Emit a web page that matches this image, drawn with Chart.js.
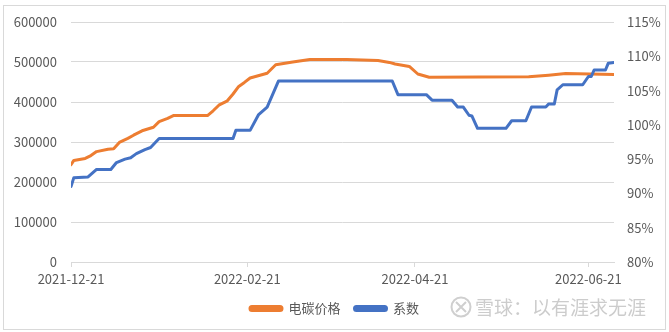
<!DOCTYPE html>
<html>
<head>
<meta charset="utf-8">
<script src="https://cdn.jsdelivr.net/npm/chart.js@4/dist/chart.umd.min.js"></script>
<style>
    html, body { margin: 0; padding: 0; background: #fff; }
    canvas { display: block; }
</style>
</head>
<body>
<canvas id="carbonChart" width="669" height="332"></canvas>
<script>
const startDate = "2021-12-21";
const endDate = "2022-06-30";
const tickLabels = ["2021-12-21", "2022-02-21", "2022-04-21", "2022-06-21"];
const seriesNames = ["电碳价格", "系数"];

// 电碳价格
const priceDates = [
    "2021-12-21", "2021-12-22", "2021-12-26", "2021-12-28", "2021-12-30",
    "2022-01-03", "2022-01-05", "2022-01-07", "2022-01-10", "2022-01-12",
    "2022-01-15", "2022-01-19", "2022-01-21", "2022-01-24", "2022-01-26",
    "2022-02-07", "2022-02-09", "2022-02-11", "2022-02-14", "2022-02-16",
    "2022-02-18", "2022-02-20", "2022-02-22", "2022-02-28", "2022-03-03",
    "2022-03-09", "2022-03-15", "2022-03-28", "2022-04-08", "2022-04-12",
    "2022-04-14", "2022-04-19", "2022-04-22", "2022-04-26", "2022-05-31",
    "2022-06-07", "2022-06-13", "2022-06-30"
];
const priceValues = [
    243000, 254000, 259000, 266000, 276000,
    282000, 283000, 299000, 309000, 317000,
    328000, 337000, 351000, 359000, 366000,
    366000, 378000, 392000, 403000, 420000,
    439000, 449000, 460000, 472000, 493000,
    500000, 506000, 506000, 504000, 499000,
    495000, 489000, 470000, 462000, 463000,
    467000, 471000, 469000
];

// 系数 (%)
const coefDates = [
    "2021-12-21", "2021-12-22", "2021-12-27", "2021-12-30", "2022-01-04",
    "2022-01-06", "2022-01-09", "2022-01-11", "2022-01-13", "2022-01-16",
    "2022-01-18", "2022-01-21", "2022-02-16", "2022-02-17", "2022-02-22",
    "2022-02-25", "2022-02-28", "2022-03-04", "2022-04-13", "2022-04-15",
    "2022-04-25", "2022-04-27", "2022-05-04", "2022-05-06", "2022-05-08",
    "2022-05-10", "2022-05-11", "2022-05-13", "2022-05-23", "2022-05-25",
    "2022-05-30", "2022-06-01", "2022-06-06", "2022-06-07", "2022-06-09",
    "2022-06-10", "2022-06-12", "2022-06-19", "2022-06-21", "2022-06-22",
    "2022-06-23", "2022-06-27", "2022-06-28", "2022-06-30"
];
const coefValues = [
    91.0, 92.3, 92.4, 93.5, 93.5,
    94.5, 95.0, 95.2, 95.8, 96.4,
    96.7, 98.0, 98.0, 99.2, 99.2,
    101.5, 102.6, 106.4, 106.4, 104.4,
    104.4, 103.6, 103.6, 102.6, 102.6,
    101.4, 101.3, 99.5, 99.5, 100.6,
    100.6, 102.6, 102.6, 103.05, 103.05,
    105.1, 105.85, 105.85, 107.05, 107.05,
    108.0, 108.0, 109.0, 109.1
];

const DAY = 86400000;
const dayOf = d => (Date.parse(d) - Date.parse(startDate)) / DAY;
const toPoints = (dates, values) => dates.map((d, i) => ({ x: dayOf(d), y: values[i] }));

const textColor = "#595959";
const gridColor = "#d9d9d9";
const baseFont = "'Noto Sans CJK SC', 'Noto Sans', sans-serif";

// white background, frame and the watermark
const framePlugin = {
    id: "frame",
    beforeDraw(chart) {
        const ctx = chart.ctx;
        ctx.save();
        ctx.fillStyle = "#fff";
        ctx.fillRect(0, 0, chart.width, chart.height);
        ctx.strokeStyle = gridColor;
        ctx.lineWidth = 1;
        ctx.strokeRect(3.5, 5.5, 662, 324);
        ctx.restore();
    },
    afterDraw(chart) {
        const ctx = chart.ctx;
        ctx.save();
        ctx.strokeStyle = "#cfcfcf";
        ctx.lineWidth = 2;
        ctx.beginPath();
        ctx.arc(461, 307, 9.5, 0, Math.PI * 2);
        ctx.stroke();
        ctx.beginPath();
        ctx.moveTo(456, 302); ctx.lineTo(466, 312);
        ctx.moveTo(466, 302); ctx.lineTo(456, 312);
        ctx.stroke();
        ctx.fillStyle = "#cccccc";
        ctx.font = "19px " + baseFont;
        ctx.textBaseline = "middle";
        ctx.fillText("雪球：以有涯求无涯", 475, 308);
        ctx.restore();
    }
};

new Chart(document.getElementById("carbonChart"), {
    type: "line",
    data: {
        datasets: [
            {
                label: seriesNames[0],
                data: toPoints(priceDates, priceValues),
                yAxisID: "y",
                borderColor: "#ED7D31",
                backgroundColor: "#ED7D31",
                borderWidth: 3,
                order: 1
            },
            {
                label: seriesNames[1],
                data: toPoints(coefDates, coefValues),
                yAxisID: "y1",
                borderColor: "#4472C4",
                backgroundColor: "#4472C4",
                borderWidth: 3,
                order: 0
            }
        ]
    },
    options: {
        responsive: false,
        animation: false,
        devicePixelRatio: 1,
        layout: { padding: { top: 22, left: 0, right: 0, bottom: 7 } },
        elements: {
            point: { radius: 0, hoverRadius: 0 },
            line: { tension: 0, borderJoinStyle: "round", borderCapStyle: "round" }
        },
        plugins: {
            tooltip: { enabled: false },
            legend: {
                position: "bottom",
                labels: {
                    color: textColor,
                    font: { family: baseFont, size: 13 },
                    boxWidth: 32,
                    boxHeight: 4,
                    useBorderRadius: true,
                    borderRadius: 2,
                    padding: 14,
                    sort: (a, b) => a.datasetIndex - b.datasetIndex
                }
            }
        },
        scales: {
            x: {
                type: "linear",
                min: 0,
                max: dayOf(endDate),
                afterBuildTicks: scale => {
                    scale.ticks = tickLabels.map(t => ({ value: dayOf(t) }));
                },
                afterFit: scale => { scale.height = 26; },
                ticks: {
                    color: textColor,
                    font: { family: baseFont, size: 13 },
                    padding: 4,
                    maxRotation: 0,
                    autoSkip: false,
                    callback: (v, i) => tickLabels[i]
                },
                grid: { drawOnChartArea: false, color: gridColor, tickLength: 5 },
                border: { display: true, color: gridColor }
            },
            y: {
                position: "left",
                min: 0,
                max: 600000,
                afterFit: scale => { scale.width = 71; },
                ticks: {
                    stepSize: 100000,
                    color: textColor,
                    font: { family: baseFont, size: 13 },
                    padding: 14,
                    callback: v => String(v)
                },
                grid: { color: gridColor, drawTicks: false },
                border: { display: false }
            },
            y1: {
                position: "right",
                min: 80,
                max: 115,
                afterFit: scale => { scale.width = 55; },
                ticks: {
                    stepSize: 5,
                    color: textColor,
                    font: { family: baseFont, size: 13 },
                    padding: 13,
                    callback: v => v + "%"
                },
                grid: { display: false, drawTicks: false },
                border: { display: false }
            }
        }
    },
    plugins: [framePlugin]
});
</script>
</body>
</html>
